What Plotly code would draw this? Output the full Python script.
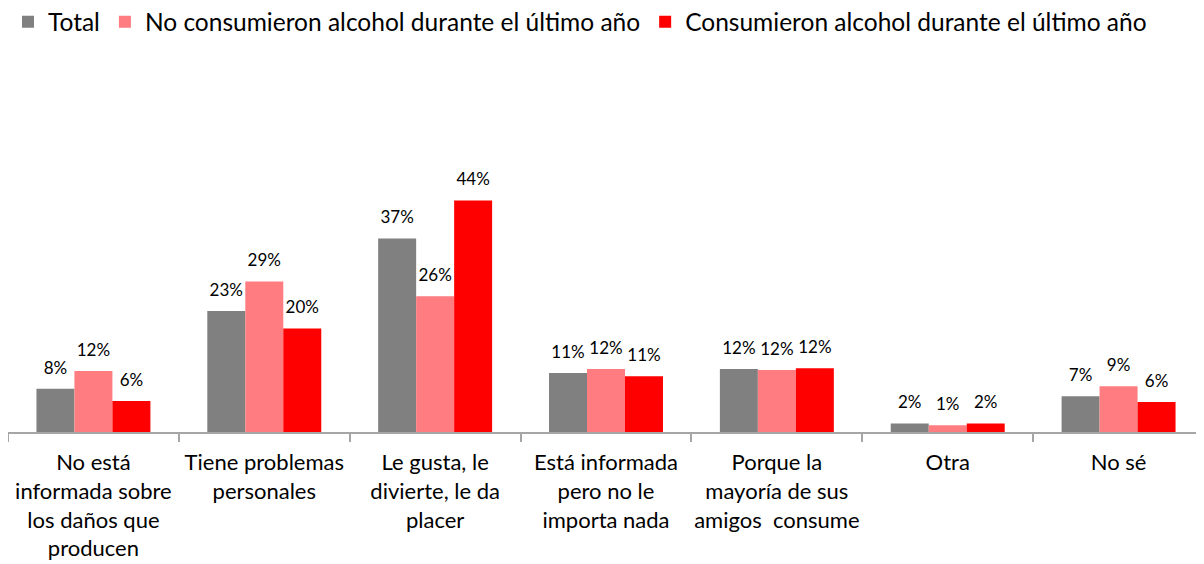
import plotly.graph_objects as go

categories = [
    "No está<br>informada sobre<br>los daños que<br>producen",
    "Tiene problemas<br>personales",
    "Le gusta, le<br>divierte, le da<br>placer",
    "Está informada<br>pero no le<br>importa nada",
    "Porque la<br>mayoría de sus<br>amigos  consume",
    "Otra",
    "No sé",
]
total = [8.2, 23.0, 36.8, 11.2, 12.0, 1.6, 6.8]
no_consumieron = [11.6, 28.6, 25.8, 12.0, 11.8, 1.3, 8.7]
consumieron = [5.9, 19.7, 44.0, 10.6, 12.1, 1.6, 5.7]
series_names = ["Total", "No consumieron alcohol durante el último año",
                "Consumieron alcohol durante el último año"]
colors = ["#808080", "#FF7C80", "#FF0000"]

fig = go.Figure()
for i, (name, vals, col) in enumerate(zip(series_names, [total, no_consumieron, consumieron], colors)):
    fig.add_trace(go.Bar(
        x=categories, y=vals, name=name, marker_color=col, marker_line_width=0,
        offsetgroup=str(i), hoverinfo="name+y",
    ))
for i, vals in enumerate([total, no_consumieron, consumieron]):
    fig.add_trace(go.Scatter(
        x=categories, y=vals, mode="markers+text", offsetgroup=str(i),
        marker=dict(size=16, opacity=0), showlegend=False, hoverinfo="skip",
        text=[f"{round(v):.0f}%" for v in vals], textposition="top center",
        textfont=dict(size=17, color="#000000"), cliponaxis=False,
    ))

fig.update_layout(
    width=1204, height=564,
    margin=dict(l=0, r=8, t=161, b=140, autoexpand=False),
    barmode="group", bargap=0.333, bargroupgap=0,
    scattermode="group", scattergap=0.333,
    plot_bgcolor="white", paper_bgcolor="white",
    font=dict(family="Lato, 'Open Sans', sans-serif", color="#000000"),
    legend=dict(orientation="h", x=0.0, xanchor="left", y=1.56, yanchor="middle",
                font=dict(size=24.5), traceorder="normal", itemwidth=30),
    showlegend=True,
)
fig.update_xaxes(
    automargin=False,
    showline=True, linecolor="#A6A6A6", linewidth=2,
    ticks="outside", tickson="boundaries", ticklen=8, tickcolor="#A6A6A6", tickwidth=2,
    tickfont=dict(size=22, color="#000000"), tickangle=0, ticklabelstandoff=10,
)
fig.update_yaxes(visible=False, range=[0, 50], automargin=False)

fig.write_html("out.html")
